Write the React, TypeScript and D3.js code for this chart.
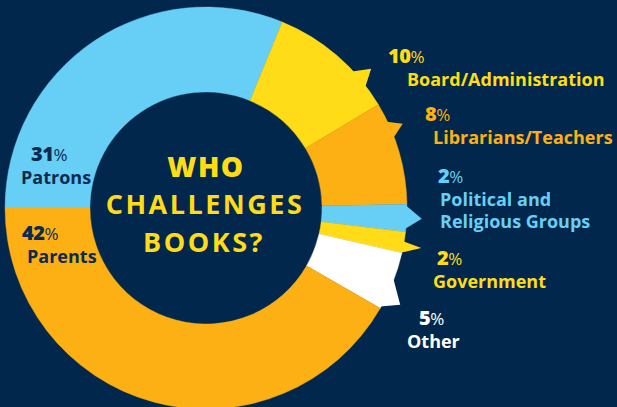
import * as d3 from 'd3';

const categories = [
  'Patrons',
  'Board/Administration',
  'Librarians/Teachers',
  'Political and Religious Groups',
  'Government',
  'Other',
  'Parents',
];
// shares in percent (labels show them rounded)
const shares = [31.2, 10.2, 8.3, 2.2, 1.7, 4.7, 41.7];
const nameLines = [
  ['Patrons'],
  ['Board/Administration'],
  ['Librarians/Teachers'],
  ['Political and', 'Religious Groups'],
  ['Government'],
  ['Other'],
  ['Parents'],
];
const titleLines = ['WHO', 'CHALLENGES', 'BOOKS?'];

const BG = '#01284c';
const NAVY = '#0b2b50';
const sliceColors = ['#67cff5', '#ffdc17', '#fdb014', '#67cff5', '#ffdc17', '#ffffff', '#fdb014'];
const textColors = [NAVY, '#ffdc17', '#fdb014', '#67cff5', '#ffdc17', '#ffffff', NAVY];

const W = 617;
const H = 407;
const cx = 206;
const cy = 208;
const innerR = 116;
const outerR = 201;

// [pctX, pctY, nameX, nameY]
const labelPos = [
  [31, 161, 21, 184],
  [388, 63, 407, 86],
  [425, 121, 433, 144],
  [438, 183, 440, 206],
  [437, 265, 433, 288],
  [419, 325, 407, 348],
  [22, 240, 27, 263],
];

// little pointer tails on the small slices: [fromFrac, toFrac, tipFrac, tipOut]
const tails: (number[] | null)[] = [
  null,
  [0.67, 0.83, 0.75, 15],
  [0.18, 0.35, 0.26, 13],
  [0.05, 0.9, 0.5, 15],
  [0.45, 1.0, 0.6, 18],
  [0.45, 0.98, 0.8, 16],
  null,
];

const FONT = "'Open Sans', Lato, sans-serif";

function pt(a: number, r: number) {
  return [r * Math.sin(a), -r * Math.cos(a)];
}

export default function App() {
  const pie = d3
    .pie<number>()
    .sort(null)
    .value((d) => d)
    .startAngle(-Math.PI / 2)
    .endAngle((3 * Math.PI) / 2);
  const arcs = pie(shares);
  const arc = d3.arc<d3.PieArcDatum<number>>().innerRadius(innerR).outerRadius(outerR);
  const line = d3.line();

  return (
    <div style={{ position: 'fixed', left: 0, top: 0 }}>
      <svg width={W} height={H} style={{ display: 'block', background: BG }}>
        <rect width={W} height={H} fill={BG} />
        <g transform={`translate(${cx},${cy})`}>
          {arcs.map((a, i) => {
            const t = tails[i];
            let tail = null;
            if (t) {
              const span = a.endAngle - a.startAngle;
              const a1 = a.startAngle + span * t[0];
              const a2 = a.startAngle + span * t[1];
              const at = a.startAngle + span * t[2];
              const p = [pt(a1, outerR - 1), pt(at, outerR + t[3]), pt(a2, outerR - 1)] as [number, number][];
              tail = <path d={line(p) + 'Z'} fill={sliceColors[i]} />;
            }
            return (
              <g key={categories[i]}>
                <path d={arc(a) || ''} fill={sliceColors[i]} stroke={sliceColors[i]} strokeWidth={0.4} />
                {tail}
              </g>
            );
          })}
        </g>
        <g fontFamily={FONT} fill="#ffdc17" textAnchor="middle">
          <text x={206} y={177} fontSize={28} fontWeight={800} letterSpacing={1.5}>
            {titleLines[0]}
          </text>
          <text x={205} y={214} fontSize={27} fontWeight={700} letterSpacing={2.5}>
            {titleLines[1]}
          </text>
          <text x={204} y={252} fontSize={27} fontWeight={700} letterSpacing={2.5}>
            {titleLines[2]}
          </text>
        </g>
        <g fontFamily={FONT}>
          {categories.map((c, i) => {
            const [px, py, nx, ny] = labelPos[i];
            return (
              <text key={c} fill={textColors[i]} x={px} y={py}>
                <tspan fontSize={20} fontWeight={800} letterSpacing={-0.5}>
                  {Math.round(shares[i])}
                </tspan>
                <tspan fontSize={17} fontWeight={400}>%</tspan>
                {nameLines[i].map((l, j) => (
                  <tspan
                    key={l}
                    x={nx}
                    y={ny + j * 22}
                    fontSize={18}
                    fontWeight={700}
                    letterSpacing={0}
                  >
                    {l}
                  </tspan>
                ))}
              </text>
            );
          })}
        </g>
      </svg>
    </div>
  );
}
